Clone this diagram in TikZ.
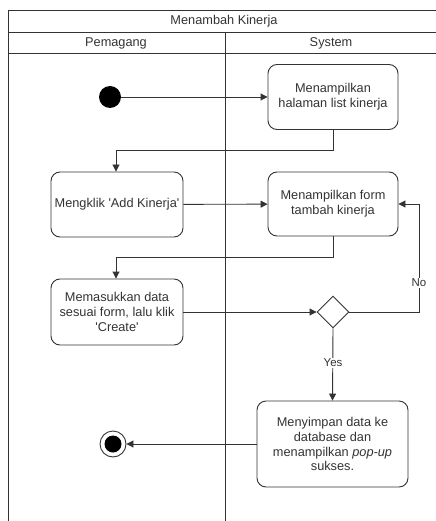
\documentclass[tikz,border=0pt]{standalone}
\usepackage{fontspec}
\setmainfont{Liberation Sans}
\usetikzlibrary{arrows.meta,shapes.geometric}
\definecolor{ln}{HTML}{333333}
\tikzset{
  act/.style={draw=ln, line width=0.9bp, rounded corners=9bp, align=center,
    inner sep=1bp, font=\fontsize{12.8}{15}\selectfont, text=ln},
  flow/.style={draw=ln, line width=0.9bp, -{Triangle[length=7bp,width=7bp]}},
  lane/.style={draw=ln, line width=0.9bp},
  lbl/.style={font=\fontsize{11.5}{13}\selectfont, fill=white, inner sep=1bp, text=ln},
  hdr/.style={font=\fontsize{12.8}{15}\selectfont, text=ln}
}
\newcommand{\sq}{\textquotesingle}
\begin{document}
\begin{tikzpicture}[x=1bp,y=-1bp]
\useasboundingbox (0,0) rectangle (436,521);
\fill[white] (0,0) rectangle (436,521);
% swimlane frame
\draw[lane] (436,10) -- (8,10) -- (8,521);
\draw[lane] (8,32) -- (436,32);
\draw[lane] (8,53) -- (436,53);
\draw[lane] (225,32) -- (225,521);
\node[hdr] (title) at (224,21) {Menambah Kinerja};
\node[hdr] (lane1) at (116,43) {Pemagang};
\node[hdr] (lane2) at (331,43) {System};
% nodes
\node[circle, fill=black, minimum size=22bp, inner sep=0] (start) at (110,97) {};
\node[act, minimum width=130bp, minimum height=65bp] (b1) at (333,97) {Menampilkan\\halaman list kinerja};
\node[act, minimum width=132bp, minimum height=65bp] (b2) at (117,204.5) {Mengklik \sq Add Kinerja\sq};
\node[act, minimum width=130bp, minimum height=64bp] (b3) at (333,204) {Menampilkan form\\tambah kinerja};
\node[act, minimum width=132bp, minimum height=66bp] (b4) at (117,312) {Memasukkan data\\sesuai form, lalu klik\\\sq Create\sq};
\node[draw=ln, line width=0.9bp, diamond, minimum width=32bp, minimum height=32bp, inner sep=0] (d) at (333,312) {};
\node[act, minimum width=151bp, minimum height=86bp] (b5) at (332.5,444) {Menyimpan data ke\\database dan\\menampilkan \textit{pop-up}\\sukses.};
\node[circle, draw=ln, line width=0.9bp, minimum size=26bp, inner sep=0] (end) at (113,444) {};
\fill[black] (end.center) circle (8.5bp);
% connectors
\draw[flow] (start) -- (b1);
\draw[flow] (b1.south) -- ++(0,21) -| (b2.north -| 116,0);
\draw[flow] (b2) -- (b3);
\draw[flow] (b3.south) -- ++(0,21) -| (b4.north -| 116,0);
\draw[flow] (b4.east) -- (d.west);
\draw[flow] (d.east) -- (419,312) -- (419,204) -- (b3.east);
\node[lbl] (no) at (419,283) {No};
\draw[flow] (d.south) -- (b5.north);
\node[lbl] (yes) at (333,363) {Yes};
\draw[flow] (b5.west |- 0,444) -- (end);
\end{tikzpicture}
\end{document}
